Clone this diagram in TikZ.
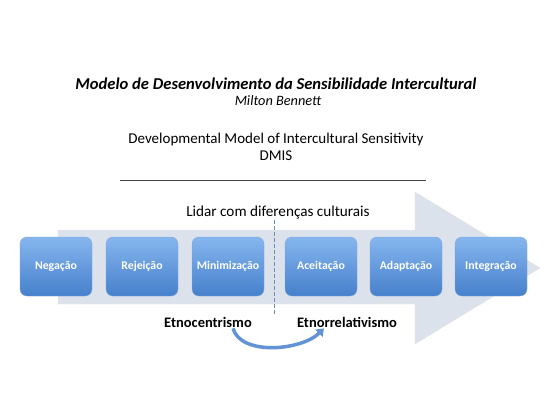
\documentclass[tikz,border=0pt]{standalone}
\usepackage{fontspec}
\setmainfont{Carlito}
\usetikzlibrary{arrows.meta,positioning}
\definecolor{arrowgray}{HTML}{DCE2EC}
\definecolor{boxtop}{HTML}{86B6EE}
\definecolor{boxbottom}{HTML}{4680CC}
\definecolor{dashblue}{HTML}{6B8DB5}
\begin{document}
\begin{tikzpicture}[x=1pt,y=-1pt,
  stage/.style={rounded corners=7pt,minimum width=72pt,minimum height=59pt,inner sep=0pt,
    top color=boxtop,bottom color=boxbottom,draw=boxbottom!70!white,line width=.4pt,
    text=white,font=\fontsize{11.8}{13}\selectfont\bfseries},
  group/.style={font=\fontsize{14.5}{16}\selectfont\bfseries,inner sep=1pt},
  swoop/.style={-{Triangle[length=7pt,width=10pt]},line width=3.5pt,draw=boxbottom!85!white}]
  \fill[white] (0,0) rectangle (551,413);
  \useasboundingbox (0,0) rectangle (551,413);
  % headings
  \node[font=\fontsize{16.6}{18}\selectfont\bfseries\itshape] (title) at (276,84)
    {Modelo de Desenvolvimento da Sensibilidade Intercultural};
  \node[font=\fontsize{14.3}{16}\selectfont\itshape] (author) at (278,101) {Milton Bennett};
  \node[font=\fontsize{15}{17}\selectfont] (english) at (276,139)
    {Developmental Model of Intercultural Sensitivity};
  \node[font=\fontsize{15}{17}\selectfont] (acronym) at (276,156) {DMIS};
  \draw[line width=.9pt,black!75] (120,180) -- (426,180);
  \node[font=\fontsize{15.2}{17}\selectfont] (coping) at (278,212) {Lidar com diferenças culturais};
  % big arrow
  \filldraw[fill=arrowgray,draw=black!10,line width=.4pt]
    (58,230) -- (415,230) -- (415,192) -- (540,268) -- (415,344) -- (415,304) -- (58,304) -- cycle;
  \foreach \name/\xpos/\stagetext in {
    negacao/56/Negação,rejeicao/142/Rejeição,minimizacao/228/Minimização,
    aceitacao/321/Aceitação,adaptacao/406/Adaptação,integracao/491/Integração}
    \node[stage] (\name) at (\xpos,266.5) {\stagetext};
  \draw[dashblue,dashed,line width=1pt,dash pattern=on 4pt off 2pt] (274,220) -- (274,315);
  \node[group] (etnocentrismo) at (208,322) {Etnocentrismo};
  \node[group] (etnorrelativismo) at (347,322) {Etnorrelativismo};
  \draw[swoop] ([xshift=-20pt]etnocentrismo.south east)
    .. controls +(8,28) and +(-22,22) .. ([xshift=28pt]etnorrelativismo.south west);
\end{tikzpicture}
\end{document}
